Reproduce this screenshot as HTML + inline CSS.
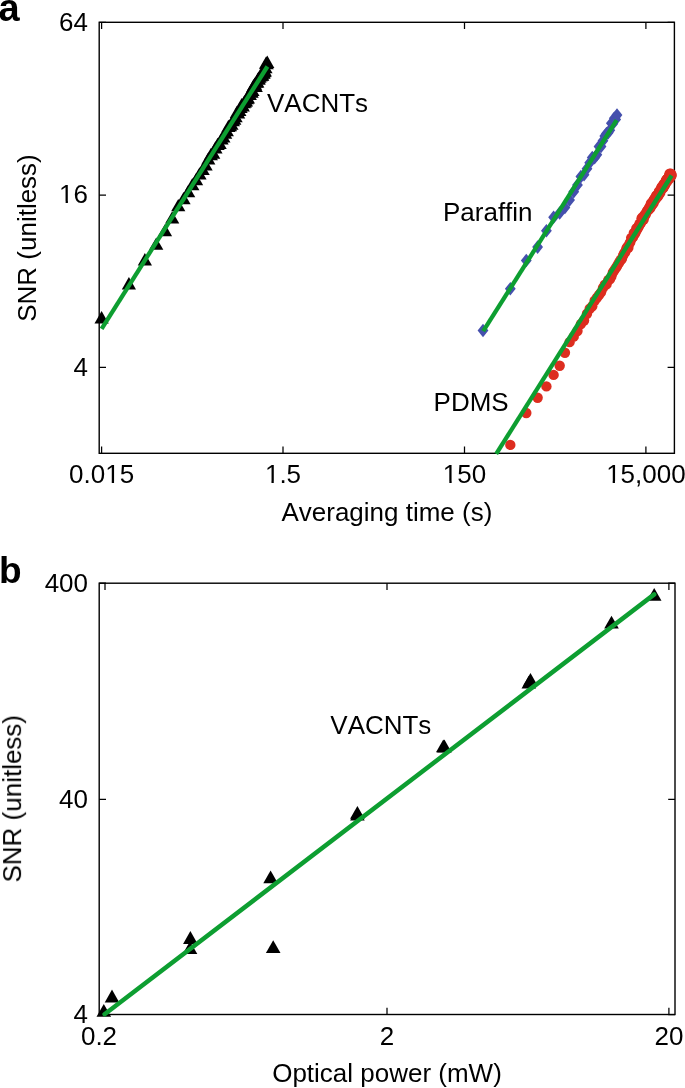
<!DOCTYPE html>
<html><head><meta charset="utf-8"><style>
html,body{margin:0;padding:0;background:#fff;}
svg{display:block;font-family:"Liberation Sans", sans-serif;font-kerning:none;}
.t{will-change:transform;}
</style></head><body>
<svg width="685" height="1088" viewBox="0 0 685 1088">
<rect width="685" height="1088" fill="#fff"/>
<rect x="99.2" y="22.3" width="575.2" height="431.0" stroke="#000" fill="none" stroke-width="1.4"/>
<path d="M101.6 453.3V446.5M101.6 22.3V29.1M283.0 453.3V446.5M283.0 22.3V29.1M464.5 453.3V446.5M464.5 22.3V29.1M645.9 453.3V446.5M645.9 22.3V29.1M99.2 22.3H106.0M674.4 22.3H667.6M99.2 195.0H106.0M674.4 195.0H667.6M99.2 367.3H106.0M674.4 367.3H667.6" stroke="#000" fill="none" stroke-width="1.25"/>
<rect x="99.2" y="583.2" width="575.8" height="431.3" stroke="#000" fill="none" stroke-width="1.4"/>
<path d="M105.0 1014.5V1007.7M105.0 583.2V590.0M387.0 1014.5V1007.7M387.0 583.2V590.0M668.9 1014.5V1007.7M668.9 583.2V590.0M99.2 583.2H106.0M675.0 583.2H668.2M99.2 799.3H106.0M675.0 799.3H668.2M99.2 1014.5H106.0M675.0 1014.5H668.2" stroke="#000" fill="none" stroke-width="1.25"/>
<g><path d="M101.60 311.10L108.70 323.40L94.50 323.40Z" fill="#000"/><path d="M128.91 277.10L136.01 289.40L121.81 289.40Z" fill="#000"/><path d="M144.88 253.12L151.98 265.42L137.78 265.42Z" fill="#000"/><path d="M156.22 237.39L163.32 249.69L149.12 249.69Z" fill="#000"/><path d="M165.01 223.88L172.11 236.18L157.91 236.18Z" fill="#000"/><path d="M172.19 211.27L179.29 223.57L165.09 223.57Z" fill="#000"/><path d="M178.27 198.91L185.37 211.21L171.17 211.21Z" fill="#000"/><path d="M183.53 191.89L190.63 204.19L176.43 204.19Z" fill="#000"/><path d="M188.17 185.05L195.27 197.35L181.07 197.35Z" fill="#000"/><path d="M192.32 177.89L199.42 190.19L185.22 190.19Z" fill="#000"/><path d="M196.08 172.94L203.18 185.24L188.98 185.24Z" fill="#000"/><path d="M199.50 167.15L206.60 179.45L192.40 179.45Z" fill="#000"/><path d="M202.66 162.75L209.76 175.05L195.56 175.05Z" fill="#000"/><path d="M205.58 158.13L212.68 170.43L198.48 170.43Z" fill="#000"/><path d="M208.29 152.21L215.39 164.51L201.19 164.51Z" fill="#000"/><path d="M210.84 147.98L217.94 160.28L203.74 160.28Z" fill="#000"/><path d="M213.23 146.46L220.33 158.76L206.13 158.76Z" fill="#000"/><path d="M215.48 141.23L222.58 153.53L208.38 153.53Z" fill="#000"/><path d="M217.61 137.75L224.71 150.05L210.51 150.05Z" fill="#000"/><path d="M219.63 136.64L226.73 148.94L212.53 148.94Z" fill="#000"/><path d="M221.55 132.09L228.65 144.39L214.45 144.39Z" fill="#000"/><path d="M223.38 130.18L230.48 142.48L216.28 142.48Z" fill="#000"/><path d="M225.14 126.33L232.24 138.63L218.04 138.63Z" fill="#000"/><path d="M226.81 124.06L233.91 136.36L219.71 136.36Z" fill="#000"/><path d="M228.42 119.80L235.52 132.10L221.32 132.10Z" fill="#000"/><path d="M229.97 119.04L237.07 131.34L222.87 131.34Z" fill="#000"/><path d="M231.45 117.47L238.55 129.77L224.35 129.77Z" fill="#000"/><path d="M232.89 113.90L239.99 126.20L225.79 126.20Z" fill="#000"/><path d="M234.27 112.44L241.37 124.74L227.17 124.74Z" fill="#000"/><path d="M235.60 110.02L242.70 122.32L228.50 122.32Z" fill="#000"/><path d="M236.90 105.74L244.00 118.04L229.80 118.04Z" fill="#000"/><path d="M238.15 106.21L245.25 118.51L231.05 118.51Z" fill="#000"/><path d="M239.36 103.67L246.46 115.97L232.26 115.97Z" fill="#000"/><path d="M240.54 100.75L247.64 113.05L233.44 113.05Z" fill="#000"/><path d="M241.68 97.95L248.78 110.25L234.58 110.25Z" fill="#000"/><path d="M242.79 99.18L249.89 111.48L235.69 111.48Z" fill="#000"/><path d="M243.87 96.05L250.97 108.35L236.77 108.35Z" fill="#000"/><path d="M244.92 95.25L252.02 107.55L237.82 107.55Z" fill="#000"/><path d="M245.94 94.20L253.04 106.50L238.84 106.50Z" fill="#000"/><path d="M246.94 92.01L254.04 104.31L239.84 104.31Z" fill="#000"/><path d="M247.91 91.20L255.01 103.50L240.81 103.50Z" fill="#000"/><path d="M248.86 87.79L255.96 100.09L241.76 100.09Z" fill="#000"/><path d="M249.79 87.77L256.89 100.07L242.69 100.07Z" fill="#000"/><path d="M250.69 85.04L257.79 97.34L243.59 97.34Z" fill="#000"/><path d="M251.58 85.40L258.68 97.70L244.48 97.70Z" fill="#000"/><path d="M252.45 83.79L259.55 96.09L245.35 96.09Z" fill="#000"/><path d="M253.29 79.60L260.39 91.90L246.19 91.90Z" fill="#000"/><path d="M254.12 78.40L261.22 90.70L247.02 90.70Z" fill="#000"/><path d="M254.93 77.37L262.03 89.67L247.83 89.67Z" fill="#000"/><path d="M255.73 79.71L262.83 92.01L248.63 92.01Z" fill="#000"/><path d="M256.51 75.48L263.61 87.78L249.41 87.78Z" fill="#000"/><path d="M257.28 75.31L264.38 87.61L250.18 87.61Z" fill="#000"/><path d="M258.03 72.27L265.13 84.57L250.93 84.57Z" fill="#000"/><path d="M258.76 72.23L265.86 84.53L251.66 84.53Z" fill="#000"/><path d="M259.49 70.38L266.59 82.68L252.39 82.68Z" fill="#000"/><path d="M260.20 68.96L267.30 81.26L253.10 81.26Z" fill="#000"/><path d="M260.89 69.06L267.99 81.36L253.79 81.36Z" fill="#000"/><path d="M261.58 67.87L268.68 80.17L254.48 80.17Z" fill="#000"/><path d="M262.25 68.50L269.35 80.80L255.15 80.80Z" fill="#000"/><path d="M262.91 66.11L270.01 78.41L255.81 78.41Z" fill="#000"/><path d="M263.57 66.36L270.67 78.66L256.47 78.66Z" fill="#000"/><path d="M264.21 64.85L271.31 77.15L257.11 77.15Z" fill="#000"/><path d="M264.84 64.11L271.94 76.41L257.74 76.41Z" fill="#000"/><path d="M265.46 60.85L272.56 73.15L258.36 73.15Z" fill="#000"/><path d="M266.07 56.56L273.17 68.86L258.97 68.86Z" fill="#000"/><path d="M266.67 57.02L273.77 69.32L259.57 69.32Z" fill="#000"/><path d="M267.26 55.62L274.36 67.92L260.16 67.92Z" fill="#000"/><path d="M483.00 323.72L488.40 330.52L483.00 337.32L477.60 330.52Z" fill="#4550ad"/><path d="M510.31 282.00L515.71 288.80L510.31 295.60L504.91 288.80Z" fill="#4550ad"/><path d="M526.28 253.72L531.68 260.52L526.28 267.32L520.88 260.52Z" fill="#4550ad"/><path d="M537.62 240.29L543.02 247.09L537.62 253.89L532.22 247.09Z" fill="#4550ad"/><path d="M546.41 223.88L551.81 230.68L546.41 237.48L541.01 230.68Z" fill="#4550ad"/><path d="M553.59 210.51L558.99 217.31L553.59 224.11L548.19 217.31Z" fill="#4550ad"/><path d="M559.67 206.26L565.07 213.06L559.67 219.86L554.27 213.06Z" fill="#4550ad"/><path d="M564.93 200.69L570.33 207.49L564.93 214.29L559.53 207.49Z" fill="#4550ad"/><path d="M569.57 193.20L574.97 200.00L569.57 206.80L564.17 200.00Z" fill="#4550ad"/><path d="M573.72 184.83L579.12 191.63L573.72 198.43L568.32 191.63Z" fill="#4550ad"/><path d="M577.47 178.18L582.87 184.98L577.47 191.78L572.07 184.98Z" fill="#4550ad"/><path d="M580.90 169.79L586.30 176.59L580.90 183.39L575.50 176.59Z" fill="#4550ad"/><path d="M584.05 167.90L589.45 174.70L584.05 181.50L578.65 174.70Z" fill="#4550ad"/><path d="M586.97 161.83L592.37 168.63L586.97 175.43L581.57 168.63Z" fill="#4550ad"/><path d="M589.69 155.92L595.09 162.72L589.69 169.52L584.29 162.72Z" fill="#4550ad"/><path d="M592.24 150.65L597.64 157.45L592.24 164.25L586.84 157.45Z" fill="#4550ad"/><path d="M594.62 150.89L600.02 157.69L594.62 164.49L589.22 157.69Z" fill="#4550ad"/><path d="M596.88 147.94L602.28 154.74L596.88 161.54L591.48 154.74Z" fill="#4550ad"/><path d="M599.01 139.80L604.41 146.60L599.01 153.40L593.61 146.60Z" fill="#4550ad"/><path d="M601.03 139.68L606.43 146.48L601.03 153.28L595.63 146.48Z" fill="#4550ad"/><path d="M602.95 134.01L608.35 140.81L602.95 147.61L597.55 140.81Z" fill="#4550ad"/><path d="M604.78 129.18L610.18 135.98L604.78 142.78L599.38 135.98Z" fill="#4550ad"/><path d="M606.53 126.64L611.93 133.44L606.53 140.24L601.13 133.44Z" fill="#4550ad"/><path d="M608.21 125.95L613.61 132.75L608.21 139.55L602.81 132.75Z" fill="#4550ad"/><path d="M609.82 123.47L615.22 130.27L609.82 137.07L604.42 130.27Z" fill="#4550ad"/><path d="M611.36 116.50L616.76 123.30L611.36 130.10L605.96 123.30Z" fill="#4550ad"/><path d="M612.85 116.91L618.25 123.71L612.85 130.51L607.45 123.71Z" fill="#4550ad"/><path d="M614.28 111.48L619.68 118.28L614.28 125.08L608.88 118.28Z" fill="#4550ad"/><path d="M615.67 112.60L621.07 119.40L615.67 126.20L610.27 119.40Z" fill="#4550ad"/><path d="M617.00 108.28L622.40 115.08L617.00 121.88L611.60 115.08Z" fill="#4550ad"/><circle cx="510.31" cy="444.91" r="5.2" fill="#dd2d1f"/><circle cx="526.28" cy="413.05" r="5.2" fill="#dd2d1f"/><circle cx="537.62" cy="397.76" r="5.2" fill="#dd2d1f"/><circle cx="546.41" cy="386.41" r="5.2" fill="#dd2d1f"/><circle cx="553.59" cy="374.91" r="5.2" fill="#dd2d1f"/><circle cx="559.67" cy="365.77" r="5.2" fill="#dd2d1f"/><circle cx="564.93" cy="352.72" r="5.2" fill="#dd2d1f"/><circle cx="569.57" cy="342.15" r="5.2" fill="#dd2d1f"/><circle cx="573.72" cy="336.66" r="5.2" fill="#dd2d1f"/><circle cx="577.47" cy="330.96" r="5.2" fill="#dd2d1f"/><circle cx="580.90" cy="324.06" r="5.2" fill="#dd2d1f"/><circle cx="584.05" cy="320.51" r="5.2" fill="#dd2d1f"/><circle cx="586.97" cy="313.78" r="5.2" fill="#dd2d1f"/><circle cx="589.69" cy="308.74" r="5.2" fill="#dd2d1f"/><circle cx="592.24" cy="306.27" r="5.2" fill="#dd2d1f"/><circle cx="594.62" cy="300.77" r="5.2" fill="#dd2d1f"/><circle cx="596.88" cy="297.70" r="5.2" fill="#dd2d1f"/><circle cx="599.01" cy="294.95" r="5.2" fill="#dd2d1f"/><circle cx="601.03" cy="292.35" r="5.2" fill="#dd2d1f"/><circle cx="602.95" cy="287.93" r="5.2" fill="#dd2d1f"/><circle cx="604.78" cy="284.68" r="5.2" fill="#dd2d1f"/><circle cx="606.53" cy="284.38" r="5.2" fill="#dd2d1f"/><circle cx="608.21" cy="280.06" r="5.2" fill="#dd2d1f"/><circle cx="609.82" cy="279.44" r="5.2" fill="#dd2d1f"/><circle cx="611.36" cy="276.62" r="5.2" fill="#dd2d1f"/><circle cx="612.85" cy="272.54" r="5.2" fill="#dd2d1f"/><circle cx="614.28" cy="270.35" r="5.2" fill="#dd2d1f"/><circle cx="615.67" cy="268.18" r="5.2" fill="#dd2d1f"/><circle cx="617.00" cy="266.28" r="5.2" fill="#dd2d1f"/><circle cx="618.29" cy="263.94" r="5.2" fill="#dd2d1f"/><circle cx="619.54" cy="261.70" r="5.2" fill="#dd2d1f"/><circle cx="620.76" cy="259.82" r="5.2" fill="#dd2d1f"/><circle cx="621.93" cy="258.78" r="5.2" fill="#dd2d1f"/><circle cx="623.08" cy="255.54" r="5.2" fill="#dd2d1f"/><circle cx="624.19" cy="253.21" r="5.2" fill="#dd2d1f"/><circle cx="625.27" cy="252.04" r="5.2" fill="#dd2d1f"/><circle cx="626.32" cy="248.61" r="5.2" fill="#dd2d1f"/><circle cx="627.34" cy="246.86" r="5.2" fill="#dd2d1f"/><circle cx="628.34" cy="247.87" r="5.2" fill="#dd2d1f"/><circle cx="629.31" cy="243.84" r="5.2" fill="#dd2d1f"/><circle cx="630.26" cy="242.17" r="5.2" fill="#dd2d1f"/><circle cx="631.19" cy="237.84" r="5.2" fill="#dd2d1f"/><circle cx="632.09" cy="238.07" r="5.2" fill="#dd2d1f"/><circle cx="632.98" cy="237.19" r="5.2" fill="#dd2d1f"/><circle cx="633.84" cy="232.85" r="5.2" fill="#dd2d1f"/><circle cx="634.69" cy="234.10" r="5.2" fill="#dd2d1f"/><circle cx="635.52" cy="232.60" r="5.2" fill="#dd2d1f"/><circle cx="636.33" cy="228.31" r="5.2" fill="#dd2d1f"/><circle cx="637.13" cy="229.51" r="5.2" fill="#dd2d1f"/><circle cx="637.91" cy="227.25" r="5.2" fill="#dd2d1f"/><circle cx="638.67" cy="226.82" r="5.2" fill="#dd2d1f"/><circle cx="639.42" cy="223.82" r="5.2" fill="#dd2d1f"/><circle cx="640.16" cy="224.12" r="5.2" fill="#dd2d1f"/><circle cx="640.88" cy="222.90" r="5.2" fill="#dd2d1f"/><circle cx="641.59" cy="218.33" r="5.2" fill="#dd2d1f"/><circle cx="642.29" cy="217.41" r="5.2" fill="#dd2d1f"/><circle cx="642.98" cy="219.28" r="5.2" fill="#dd2d1f"/><circle cx="643.65" cy="219.59" r="5.2" fill="#dd2d1f"/><circle cx="644.31" cy="215.12" r="5.2" fill="#dd2d1f"/><circle cx="644.96" cy="215.07" r="5.2" fill="#dd2d1f"/><circle cx="645.60" cy="214.71" r="5.2" fill="#dd2d1f"/><circle cx="646.23" cy="212.40" r="5.2" fill="#dd2d1f"/><circle cx="646.85" cy="211.62" r="5.2" fill="#dd2d1f"/><circle cx="647.47" cy="210.41" r="5.2" fill="#dd2d1f"/><circle cx="648.07" cy="209.72" r="5.2" fill="#dd2d1f"/><circle cx="648.66" cy="209.87" r="5.2" fill="#dd2d1f"/><circle cx="649.24" cy="207.53" r="5.2" fill="#dd2d1f"/><circle cx="649.82" cy="206.98" r="5.2" fill="#dd2d1f"/><circle cx="650.39" cy="207.98" r="5.2" fill="#dd2d1f"/><circle cx="650.94" cy="203.52" r="5.2" fill="#dd2d1f"/><circle cx="651.49" cy="205.24" r="5.2" fill="#dd2d1f"/><circle cx="652.04" cy="205.18" r="5.2" fill="#dd2d1f"/><circle cx="652.57" cy="202.29" r="5.2" fill="#dd2d1f"/><circle cx="653.10" cy="201.03" r="5.2" fill="#dd2d1f"/><circle cx="653.63" cy="202.99" r="5.2" fill="#dd2d1f"/><circle cx="654.14" cy="199.46" r="5.2" fill="#dd2d1f"/><circle cx="654.65" cy="198.41" r="5.2" fill="#dd2d1f"/><circle cx="655.15" cy="198.80" r="5.2" fill="#dd2d1f"/><circle cx="655.65" cy="199.27" r="5.2" fill="#dd2d1f"/><circle cx="656.14" cy="195.63" r="5.2" fill="#dd2d1f"/><circle cx="656.62" cy="195.92" r="5.2" fill="#dd2d1f"/><circle cx="657.10" cy="195.22" r="5.2" fill="#dd2d1f"/><circle cx="657.57" cy="196.87" r="5.2" fill="#dd2d1f"/><circle cx="658.03" cy="194.24" r="5.2" fill="#dd2d1f"/><circle cx="658.50" cy="195.51" r="5.2" fill="#dd2d1f"/><circle cx="658.95" cy="191.49" r="5.2" fill="#dd2d1f"/><circle cx="659.40" cy="191.58" r="5.2" fill="#dd2d1f"/><circle cx="659.85" cy="192.38" r="5.2" fill="#dd2d1f"/><circle cx="660.29" cy="192.80" r="5.2" fill="#dd2d1f"/><circle cx="660.72" cy="190.03" r="5.2" fill="#dd2d1f"/><circle cx="661.15" cy="188.26" r="5.2" fill="#dd2d1f"/><circle cx="661.58" cy="187.09" r="5.2" fill="#dd2d1f"/><circle cx="662.00" cy="188.38" r="5.2" fill="#dd2d1f"/><circle cx="662.42" cy="186.09" r="5.2" fill="#dd2d1f"/><circle cx="662.83" cy="188.39" r="5.2" fill="#dd2d1f"/><circle cx="663.24" cy="187.90" r="5.2" fill="#dd2d1f"/><circle cx="663.64" cy="184.11" r="5.2" fill="#dd2d1f"/><circle cx="664.04" cy="183.93" r="5.2" fill="#dd2d1f"/><circle cx="664.44" cy="185.84" r="5.2" fill="#dd2d1f"/><circle cx="664.83" cy="184.43" r="5.2" fill="#dd2d1f"/><circle cx="665.22" cy="184.60" r="5.2" fill="#dd2d1f"/><circle cx="665.60" cy="181.78" r="5.2" fill="#dd2d1f"/><circle cx="665.98" cy="180.14" r="5.2" fill="#dd2d1f"/><circle cx="666.36" cy="180.32" r="5.2" fill="#dd2d1f"/><circle cx="666.73" cy="182.13" r="5.2" fill="#dd2d1f"/><circle cx="667.10" cy="179.04" r="5.2" fill="#dd2d1f"/><circle cx="667.47" cy="178.82" r="5.2" fill="#dd2d1f"/><circle cx="667.83" cy="178.58" r="5.2" fill="#dd2d1f"/><circle cx="668.19" cy="178.02" r="5.2" fill="#dd2d1f"/><circle cx="668.55" cy="177.41" r="5.2" fill="#dd2d1f"/><circle cx="668.90" cy="179.30" r="5.2" fill="#dd2d1f"/><circle cx="669.25" cy="175.07" r="5.2" fill="#dd2d1f"/><circle cx="669.60" cy="173.80" r="5.2" fill="#dd2d1f"/><circle cx="669.94" cy="177.76" r="5.2" fill="#dd2d1f"/><circle cx="670.29" cy="176.91" r="5.2" fill="#dd2d1f"/><circle cx="670.62" cy="176.89" r="5.2" fill="#dd2d1f"/><circle cx="670.96" cy="173.70" r="5.2" fill="#dd2d1f"/><circle cx="671.29" cy="175.65" r="5.2" fill="#dd2d1f"/><circle cx="671.62" cy="175.02" r="5.2" fill="#dd2d1f"/></g>
<line x1="101.6" y1="328.8" x2="267.4" y2="66.5" stroke="#0d9e31" stroke-width="4.3" stroke-linecap="butt"/>
<line x1="483.2" y1="331.2" x2="616.6" y2="120.1" stroke="#0d9e31" stroke-width="4.3" stroke-linecap="butt"/>
<line x1="496.2" y1="453.9" x2="671.6" y2="175.5" stroke="#0d9e31" stroke-width="4.3" stroke-linecap="butt"/>
<g><path d="M103.80 1003.90L111.10 1016.70L96.50 1016.70Z" fill="#000"/><path d="M112.00 989.60L119.30 1002.40L104.70 1002.40Z" fill="#000"/><path d="M190.40 931.10L197.70 943.90L183.10 943.90Z" fill="#000"/><path d="M190.00 941.20L197.30 954.00L182.70 954.00Z" fill="#000"/><path d="M270.60 870.40L277.90 883.20L263.30 883.20Z" fill="#000"/><path d="M273.20 940.20L280.50 953.00L265.90 953.00Z" fill="#000"/><path d="M357.40 805.90L364.70 818.70L350.10 818.70Z" fill="#000"/><path d="M357.40 807.70L364.70 820.50L350.10 820.50Z" fill="#000"/><path d="M443.30 739.40L450.60 752.20L436.00 752.20Z" fill="#000"/><path d="M444.40 739.60L451.70 752.40L437.10 752.40Z" fill="#000"/><path d="M530.45 673.00L537.75 685.80L523.15 685.80Z" fill="#000"/><path d="M528.80 675.80L536.10 688.60L521.50 688.60Z" fill="#000"/><path d="M611.50 615.80L618.80 628.60L604.20 628.60Z" fill="#000"/><path d="M654.20 588.00L661.50 600.80L646.90 600.80Z" fill="#000"/></g>
<line x1="104.6" y1="1014.2" x2="654.2" y2="594.4" stroke="#0d9e31" stroke-width="4.5" stroke-linecap="round"/>
<g fill="#000" class="t"><text transform="translate(-1.4 20.6)" text-anchor="start" font-size="38" font-weight="bold">a</text><text transform="translate(-1.0 582.8)" text-anchor="start" font-size="37" font-weight="bold">b</text><text transform="translate(88.0 30.6) scale(1 1.025)" text-anchor="end" font-size="26" font-weight="normal">64</text><text transform="translate(88.0 203.3) scale(1 1.025)" text-anchor="end" font-size="26" font-weight="normal">16</text><text transform="translate(88.0 375.6) scale(1 1.025)" text-anchor="end" font-size="26" font-weight="normal">4</text><text transform="translate(101.6 483.3) scale(1 1.025)" text-anchor="middle" font-size="26" font-weight="normal">0.015</text><text transform="translate(283.0 483.3) scale(1 1.025)" text-anchor="middle" font-size="26" font-weight="normal">1.5</text><text transform="translate(464.5 483.3) scale(1 1.025)" text-anchor="middle" font-size="26" font-weight="normal">150</text><text transform="translate(645.9 483.3) scale(1 1.025)" text-anchor="middle" font-size="26" font-weight="normal">15,000</text><text transform="translate(386.9 521.1) scale(1 1.025)" text-anchor="middle" font-size="26" font-weight="normal">Averaging time (s)</text><text transform="translate(35.8 238.0) rotate(-90) scale(1 1.025)" text-anchor="middle" font-size="26" font-weight="normal">SNR (unitless)</text><text transform="translate(267.0 112.4) scale(1 1.025)" text-anchor="start" font-size="26" font-weight="normal">VACNTs</text><text transform="translate(443.0 221.3) scale(1 1.025)" text-anchor="start" font-size="26" font-weight="normal">Paraffin</text><text transform="translate(433.6 411.1) scale(1 1.025)" text-anchor="start" font-size="26" font-weight="normal">PDMS</text><text transform="translate(88.0 591.5) scale(1 1.025)" text-anchor="end" font-size="26" font-weight="normal">400</text><text transform="translate(88.0 807.5999999999999) scale(1 1.025)" text-anchor="end" font-size="26" font-weight="normal">40</text><text transform="translate(88.0 1022.8) scale(1 1.025)" text-anchor="end" font-size="26" font-weight="normal">4</text><text transform="translate(99.0 1044.9) scale(1 1.025)" text-anchor="middle" font-size="26" font-weight="normal">0.2</text><text transform="translate(387.0 1044.9) scale(1 1.025)" text-anchor="middle" font-size="26" font-weight="normal">2</text><text transform="translate(668.9 1044.9) scale(1 1.025)" text-anchor="middle" font-size="26" font-weight="normal">20</text><text transform="translate(387.0 1081.5) scale(1 1.025)" text-anchor="middle" font-size="26" font-weight="normal">Optical power (mW)</text><text transform="translate(20.7 798.7) rotate(-90) scale(1 1.025)" text-anchor="middle" font-size="26" font-weight="normal">SNR (unitless)</text><text transform="translate(330.3 733.6) scale(1 1.025)" text-anchor="start" font-size="26" font-weight="normal">VACNTs</text><g fill="#fff"><path d="M60.06 201H65.62V204H60.06ZM67.92 201H73.27V204H67.92Z"/><path d="M106.19 481H111.75V484H106.19ZM114.05 481H119.40V484H114.05Z"/><path d="M265.91 481H271.47V484H265.91ZM273.76 481H279.12V484H273.76Z"/><path d="M443.79 481H449.35V484H443.79ZM451.65 481H457.00V484H451.65Z"/><path d="M607.12 481H612.68V484H607.12ZM614.97 481H620.33V484H614.97Z"/></g></g>
</svg>
</body></html>
